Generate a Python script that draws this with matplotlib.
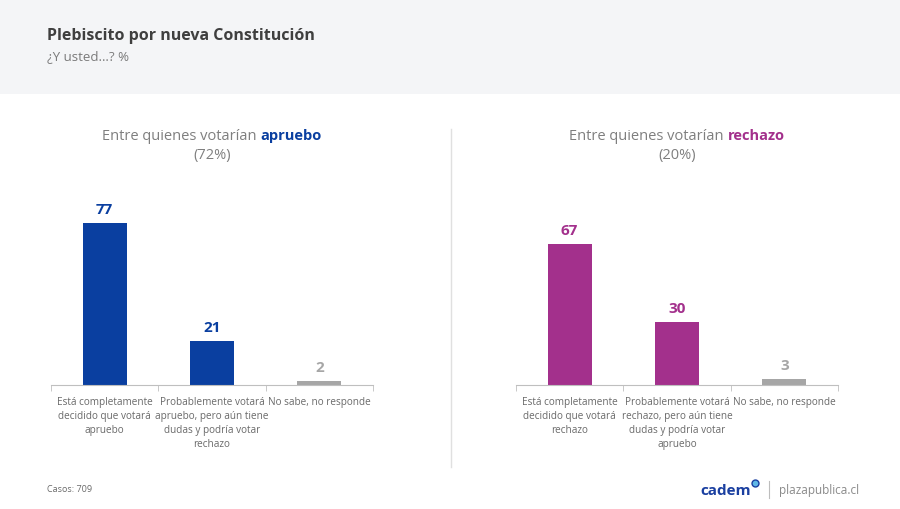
import matplotlib
matplotlib.use("Agg")
import matplotlib.pyplot as plt
from matplotlib.patches import Rectangle
from matplotlib.lines import Line2D
from matplotlib.offsetbox import TextArea, HPacker, AnnotationBbox

plt.rcParams["font.family"] = ["Open Sans", "DejaVu Sans"]

# data
cats_apruebo = ["Está completamente\ndecidido que votará\napruebo",
                "Probablemente votará\napruebo, pero aún tiene\ndudas y podría votar\nrechazo",
                "No sabe, no responde"]
cats_rechazo = ["Está completamente\ndecidido que votará\nrechazo",
                "Probablemente votará\nrechazo, pero aún tiene\ndudas y podría votar\napruebo",
                "No sabe, no responde"]
vals_apruebo = [77, 21, 2]
vals_rechazo = [67, 30, 3]
share_apruebo = "(72%)"
share_rechazo = "(20%)"

BLUE = "#0a3fa0"
MAGENTA = "#a3308c"
GREY_BAR = "#a6a6a6"
TXT_GREY = "#7f7f7f"

fig = plt.figure(figsize=(9, 5.1), dpi=100)
fig.patch.set_facecolor("white")

# header band
fig.add_artist(Rectangle((0, 1 - 95 / 510), 1, 95 / 510, transform=fig.transFigure,
                         facecolor="#f4f5f7", edgecolor="none", zorder=0))
fig.text(47 / 900, 1 - 36 / 510, "Plebiscito por nueva Constitución", fontsize=11.5,
         fontweight="bold", color="#3f3f3f", va="center", ha="left")
fig.text(47 / 900, 1 - 57 / 510, "¿Y usted…? %", fontsize=9.5, color="#7a7a7a",
         va="center", ha="left")

# separator between panels
fig.add_artist(Line2D([451 / 900, 451 / 900], [1 - 130 / 510, 1 - 468 / 510],
                      transform=fig.transFigure, color="#e0e0e0", linewidth=1))


def panel(rect, cats, vals, color, word, share):
    ax = fig.add_axes(rect)
    x = list(range(len(vals)))
    colors = [color, color, GREY_BAR]
    ax.bar(x, vals, width=0.41, color=colors, zorder=2)
    for xi, v, c in zip(x, vals, colors):
        ax.annotate(str(v), (xi, v), xytext=(0, 5), textcoords="offset points",
                    ha="center", va="bottom", fontsize=11, fontweight="bold", color=c)
    ax.set_xlim(-0.5, len(vals) - 0.5)
    ax.set_ylim(0, 100)
    ax.set_yticks([])
    for s in ["top", "right", "left"]:
        ax.spines[s].set_visible(False)
    ax.spines["bottom"].set_color("#bfbfbf")
    ax.set_xticks(x)
    ax.set_xticklabels(cats, fontsize=7.2, color="#6a6a6a", linespacing=1.35, va="top")
    ax.tick_params(axis="x", which="major", length=0, pad=8)
    ax.set_xticks([-0.5, 0.5, 1.5, 2.5], minor=True)
    ax.tick_params(axis="x", which="minor", length=4, color="#bfbfbf")
    ax.patch.set_alpha(0)

    # panel heading with coloured word
    t1 = TextArea("Entre quienes votarían ", textprops=dict(fontsize=10.5, color=TXT_GREY))
    t2 = TextArea(word, textprops=dict(fontsize=10.5, color=color, fontweight="bold"))
    box = HPacker(children=[t1, t2], align="baseline", pad=0, sep=0)
    ab = AnnotationBbox(box, (0.5, 1.19), xycoords="axes fraction",
                        box_alignment=(0.5, 0.5), frameon=False)
    ax.add_artist(ab)
    ax.text(0.5, 1.10, share, transform=ax.transAxes, ha="center", va="center",
            fontsize=10.5, color=TXT_GREY)
    return ax


panel([51 / 900, 1 - 386 / 510, 322 / 900, 210 / 510], cats_apruebo, vals_apruebo,
      BLUE, "apruebo", share_apruebo)
panel([516 / 900, 1 - 386 / 510, 322 / 900, 210 / 510], cats_rechazo, vals_rechazo,
      MAGENTA, "rechazo", share_rechazo)

# footer
fig.text(47 / 900, 1 - 490 / 510, "Casos: 709", fontsize=6.5, color="#6a6a6a",
         va="center", ha="left")
fig.text(700 / 900, 1 - 491 / 510, "cadem", fontsize=11, fontweight="bold",
         color="#1a3fa0", va="center", ha="left")
fig.add_artist(Line2D([755 / 900], [1 - 484 / 510], marker="o", markersize=5,
                      markerfacecolor="#5fb8e6", markeredgecolor="#1a3fa0",
                      transform=fig.transFigure))
fig.add_artist(Line2D([769 / 900, 769 / 900], [1 - 482 / 510, 1 - 499 / 510],
                      transform=fig.transFigure, color="#bdbdbd", linewidth=0.8))
fig.text(779 / 900, 1 - 491 / 510, "plazapublica.cl", fontsize=8.5, color="#8a8a8a",
         va="center", ha="left")

fig.savefig("out.png", dpi=100, facecolor="white")
